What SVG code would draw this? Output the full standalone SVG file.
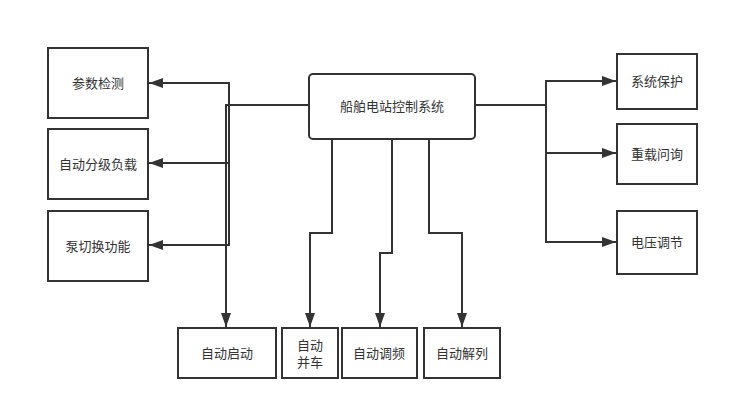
<svg xmlns="http://www.w3.org/2000/svg" width="729" height="409" viewBox="0 0 729 409">
<defs>
<style>
.box{fill:#fff;stroke:#333;stroke-width:2}
.t{font-family:"Liberation Sans","Noto Sans CJK SC",sans-serif;font-size:13px;fill:#333;text-anchor:middle;dominant-baseline:central}
.c{fill:none;stroke:#333;stroke-width:2;marker-end:url(#ah)}
</style>
<marker id="ah" markerUnits="userSpaceOnUse" markerWidth="16" markerHeight="12" refX="14" refY="5" orient="auto">
<path d="M0,0 L14,5 L0,10 z" fill="#333"/>
</marker>
</defs>
<rect width="729" height="409" fill="#fff"/>
<g id="connectors">
<path class="c" d="M309,105 H229 V83 H149"/>
<path class="c" d="M309,105 H229 V163 H149"/>
<path class="c" d="M309,105 H229 V245 H149"/>
<path class="c" d="M309,105 H226 V327"/>
<path class="c" d="M332,139 V233 H310 V327"/>
<path class="c" d="M392,139 V253 H380 V327"/>
<path class="c" d="M429,139 V233 H462 V327"/>
<path class="c" d="M475,105 H546 V81 H616"/>
<path class="c" d="M475,105 H546 V153 H616"/>
<path class="c" d="M475,105 H546 V242 H616"/>
</g>
<g id="main"><rect class="box" x="309" y="74" width="166" height="65" rx="4"/><text class="t" x="392" y="106">船舶电站控制系统</text></g>
<g id="n1"><rect class="box" x="48" y="48" width="100" height="70"/><text class="t" x="98" y="83">参数检测</text></g>
<g id="n2"><rect class="box" x="48" y="129" width="100" height="70"/><text class="t" x="98" y="164">自动分级负载</text></g>
<g id="n3"><rect class="box" x="48" y="211" width="100" height="70"/><text class="t" x="98" y="246">泵切换功能</text></g>
<g id="n4"><rect class="box" x="178" y="328" width="98" height="50"/><text class="t" x="227" y="353">自动启动</text></g>
<g id="n5"><rect class="box" x="282" y="328" width="56" height="50"/><text class="t" x="310" y="345">自动</text><text class="t" x="310" y="362">并车</text></g>
<g id="n6"><rect class="box" x="342" y="328" width="75" height="50"/><text class="t" x="379" y="353">自动调频</text></g>
<g id="n7"><rect class="box" x="424" y="328" width="76" height="50"/><text class="t" x="462" y="353">自动解列</text></g>
<g id="n8"><rect class="box" x="617" y="54" width="80" height="55"/><text class="t" x="657" y="81">系统保护</text></g>
<g id="n9"><rect class="box" x="617" y="124" width="80" height="60"/><text class="t" x="657" y="154">重载问询</text></g>
<g id="n10"><rect class="box" x="617" y="211" width="80" height="63"/><text class="t" x="657" y="242">电压调节</text></g>
</svg>
